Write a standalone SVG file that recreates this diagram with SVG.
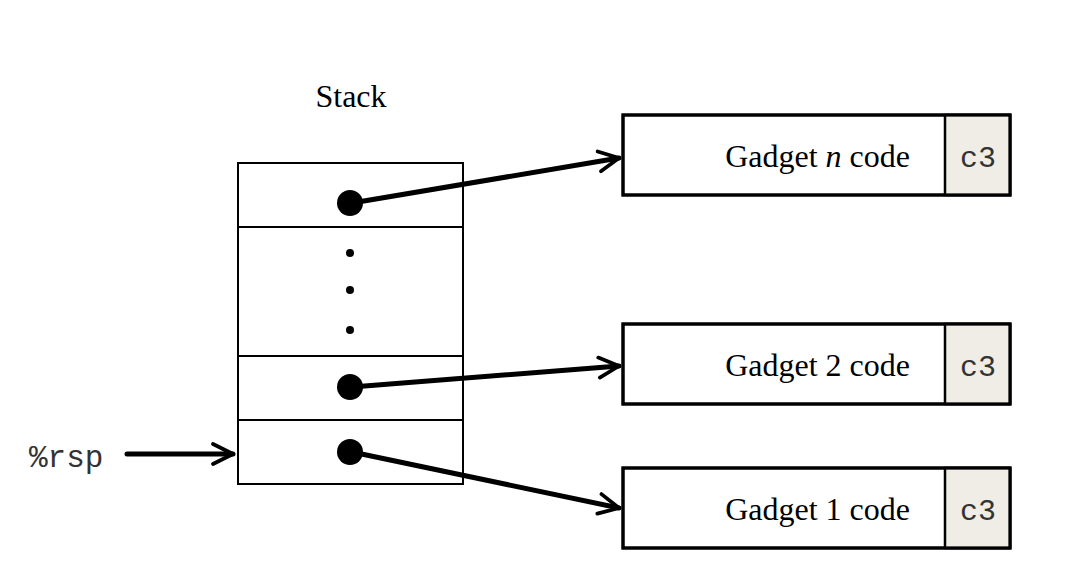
<svg xmlns="http://www.w3.org/2000/svg" width="1088" height="585" viewBox="0 0 1088 585">
<style>
.serif{font-family:"Liberation Serif","Times New Roman",serif;font-size:32px;fill:#000}
.mono{font-family:"Liberation Mono","Courier New",monospace;fill:#333}
.box{fill:#fff;stroke:#000;stroke-width:3}
.ret{fill:#efede6;stroke:#000;stroke-width:2.5}
.stk{fill:#fff;stroke:#000;stroke-width:2}
.conn{fill:none;stroke:#000;stroke-width:5;stroke-linecap:round}
</style>
<defs>
<marker id="arr" viewBox="0 0 10 10" refX="9" refY="5" markerWidth="5" markerHeight="5" markerUnits="strokeWidth" orient="auto">
<path d="M1,1 L9,5 L1,9" fill="none" stroke="#000" stroke-width="1.5" stroke-linecap="round" stroke-linejoin="round"/>
</marker>
</defs>
<rect width="1088" height="585" fill="#fff"/>
<g id="stack">
<text class="serif" x="351" y="107" text-anchor="middle" font-size="31">Stack</text>
<rect class="stk" x="238" y="163" width="225" height="321"/>
<line x1="238" y1="227" x2="463" y2="227" stroke="#000" stroke-width="2"/>
<line x1="238" y1="356" x2="463" y2="356" stroke="#000" stroke-width="2"/>
<line x1="238" y1="420" x2="463" y2="420" stroke="#000" stroke-width="2"/>
<circle cx="350" cy="203" r="13"/>
<circle cx="350" cy="253" r="4"/>
<circle cx="350" cy="290" r="4"/>
<circle cx="350" cy="330" r="4"/>
<circle cx="350" cy="387" r="13"/>
<circle cx="350" cy="452" r="13"/>
</g>
<g id="rsp">
<text class="mono" x="29" y="467" font-size="31">%rsp</text>
</g>
<g id="gadget-n">
<rect class="box" x="623" y="115" width="387" height="80"/>
<rect class="ret" x="945" y="115" width="65" height="80"/>
<rect x="623" y="115" width="387" height="80" fill="none" stroke="#000" stroke-width="3"/>
<text class="serif" x="910" y="167" text-anchor="end">Gadget <tspan font-style="italic">n</tspan> code</text>
<text class="mono" x="978" y="167" font-size="30" text-anchor="middle">c3</text>
</g>
<g id="gadget-2">
<rect class="box" x="623" y="324" width="387" height="80"/>
<rect class="ret" x="945" y="324" width="65" height="80"/>
<rect x="623" y="324" width="387" height="80" fill="none" stroke="#000" stroke-width="3"/>
<text class="serif" x="910" y="376" text-anchor="end">Gadget 2 code</text>
<text class="mono" x="978" y="376" font-size="30" text-anchor="middle">c3</text>
</g>
<g id="gadget-1">
<rect class="box" x="623" y="468" width="387" height="80"/>
<rect class="ret" x="945" y="468" width="65" height="80"/>
<rect x="623" y="468" width="387" height="80" fill="none" stroke="#000" stroke-width="3"/>
<text class="serif" x="910" y="520" text-anchor="end">Gadget 1 code</text>
<text class="mono" x="978" y="520" font-size="30" text-anchor="middle">c3</text>
</g>
<g id="connectors">
<line class="conn" x1="127" y1="454" x2="233" y2="454" marker-end="url(#arr)"/>
<line class="conn" x1="352" y1="203" x2="619" y2="158" marker-end="url(#arr)"/>
<line class="conn" x1="352" y1="387" x2="619" y2="366" marker-end="url(#arr)"/>
<line class="conn" x1="352" y1="452" x2="619" y2="508" marker-end="url(#arr)"/>
</g>
</svg>
